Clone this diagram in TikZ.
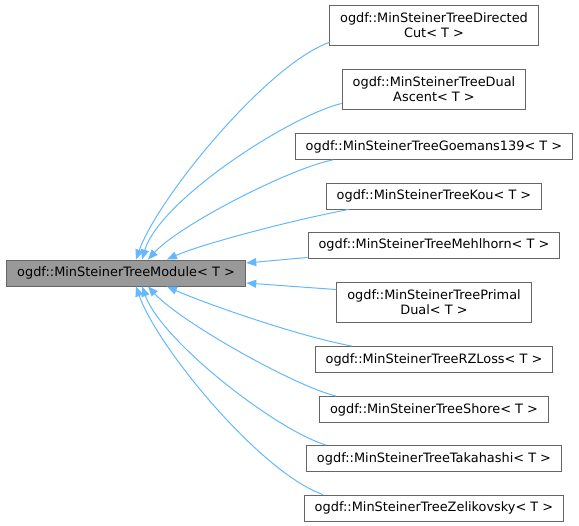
\documentclass[tikz,border=0pt]{standalone}
\usepackage{fontspec}
\setmainfont{DejaVu Sans}
\usetikzlibrary{arrows.meta}
\definecolor{edgeblue}{HTML}{63B8FF}
\definecolor{boxline}{HTML}{666666}
\definecolor{basefill}{HTML}{999999}

\begin{document}
\begin{tikzpicture}[x=1pt,y=-1pt,>={Triangle[length=10pt,width=8pt]},
  cls/.style={rectangle,draw=boxline,fill=white,line width=0.9pt,align=center,
    inner xsep=10.5pt,inner ysep=4pt,minimum height=26pt,
    font=\fontsize{12.9}{15}\selectfont},
  twoline/.style={cls,minimum height=40pt},
  basecls/.style={cls,fill=basefill,inner xsep=11pt},
  inh/.style={->,edgeblue,line width=1pt}]
  \useasboundingbox (0,0) rectangle (579,526);
  \node[basecls] (base) at (126,273) {ogdf::MinSteinerTreeModule< T >};
  \node[twoline] (dcut) at (434,25) {ogdf::MinSteinerTreeDirected\\Cut< T >};
  \node[twoline] (dual) at (434,89) {ogdf::MinSteinerTreeDual\\Ascent< T >};
  \node[cls] (goem) at (434,146.5) {ogdf::MinSteinerTreeGoemans139< T >};
  \node[cls] (kou) at (434,196) {ogdf::MinSteinerTreeKou< T >};
  \node[cls] (mehl) at (434,245) {ogdf::MinSteinerTreeMehlhorn< T >};
  \node[twoline] (primal) at (434,302) {ogdf::MinSteinerTreePrimal\\Dual< T >};
  \node[cls] (rzloss) at (434,359.5) {ogdf::MinSteinerTreeRZLoss< T >};
  \node[cls] (shore) at (434,409.5) {ogdf::MinSteinerTreeShore< T >};
  \node[cls] (taka) at (434,458.5) {ogdf::MinSteinerTreeTakahashi< T >};
  \node[cls] (zeli) at (434,508) {ogdf::MinSteinerTreeZelikovsky< T >};
  % edges above the base class
  \draw[inh] ([yshift=3pt]dcut.south west) .. controls +(-62,22) and +(22,-62) .. ([xshift=10pt]base.north);
  \draw[inh] ([yshift=6pt]dual.south west) .. controls +(-51,12) and +(18,-60) .. ([xshift=16pt]base.north);
  \draw[inh] ([xshift=38pt]goem.south west) .. controls +(-42,8) and +(32,-35) .. ([xshift=22pt]base.north);
  \draw[inh] ([xshift=23pt]kou.south west) .. controls +(-58,11) and +(33,-15) .. ([xshift=41pt]base.north);
  \draw[inh] ([yshift=1pt]mehl.south west) -- ([yshift=10pt]base.east);
  \draw[inh] ([yshift=-8pt]primal.north west) -- ([yshift=-10pt]base.east);
  % edges below the base class
  \draw[inh] ([xshift=37pt]rzloss.north west) .. controls +(-58,-11) and +(33,15) .. ([xshift=41pt]base.south);
  \draw[inh] ([xshift=17pt]shore.north west) .. controls +(-42,-10) and +(32,35) .. ([xshift=22pt]base.south);
  \draw[inh] ([xshift=20pt]taka.north west) .. controls +(-50,-15) and +(20,55) .. ([xshift=16pt]base.south);
  \draw[inh] ([xshift=19pt]zeli.north west) .. controls +(-62,-22) and +(22,62) .. ([xshift=10pt]base.south);
\end{tikzpicture}
\end{document}
